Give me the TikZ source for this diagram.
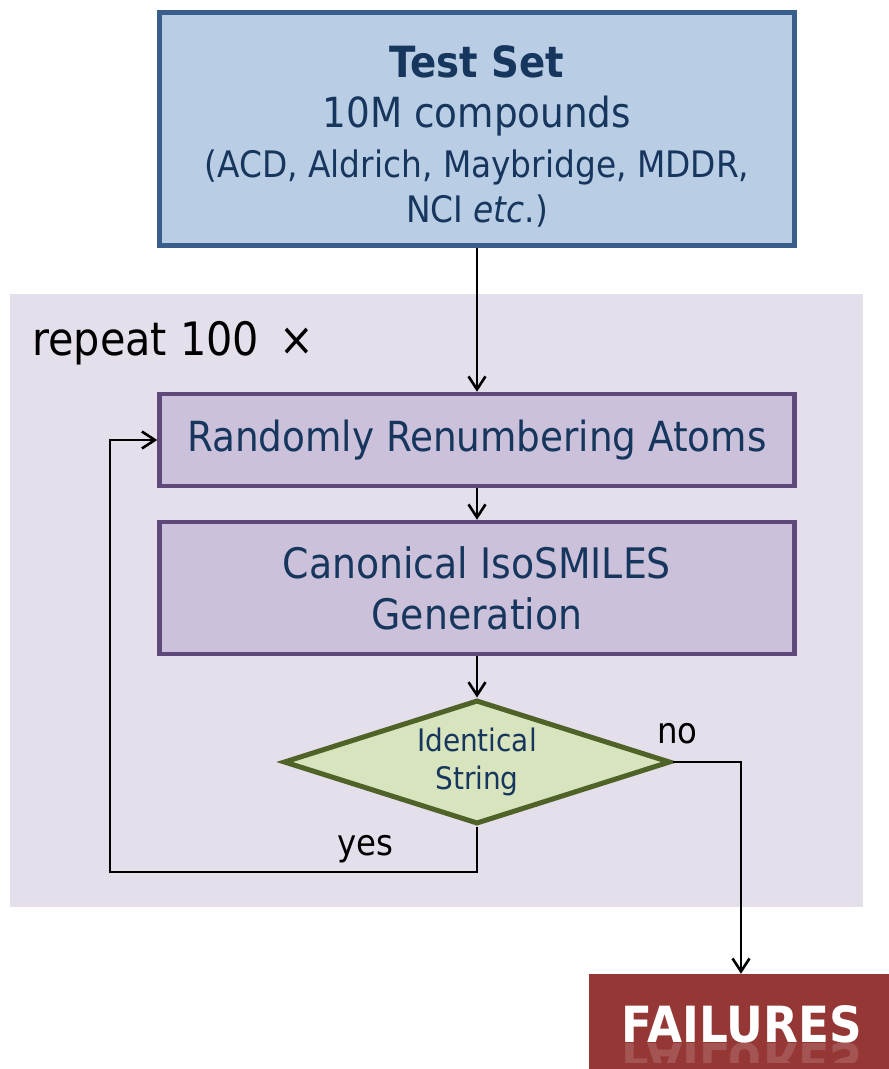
\documentclass[tikz,border=0pt]{standalone}
\usepackage{fontspec}
\usepackage{graphicx}
\setmainfont{DejaVu Sans Condensed}
\newfontfamily\failfont{DejaVu Sans Bold}
\usetikzlibrary{arrows.meta,shapes.geometric}
\definecolor{testfill}{HTML}{B9CDE5}
\definecolor{testdraw}{HTML}{3A5E8C}
\definecolor{bgfill}{HTML}{E5DFEC}
\definecolor{procfill}{HTML}{CCC1DA}
\definecolor{procdraw}{HTML}{5F497A}
\definecolor{decfill}{HTML}{D7E4BD}
\definecolor{decdraw}{HTML}{4F6228}
\definecolor{failfill}{HTML}{953735}
\definecolor{navy}{HTML}{17365D}
\tikzset{
  testbox/.style={draw=testdraw, fill=testfill, line width=5pt, inner sep=0pt,
    minimum width=635pt, minimum height=233pt},
  testtext/.style={inner sep=0pt, text=navy, align=center,
    font=\fontsize{41}{50}\selectfont},
  procbox/.style={draw=procdraw, fill=procfill, line width=4.5pt, inner sep=0pt,
    minimum width=635pt, text=navy, align=center,
    font=\fontsize{42}{51}\selectfont},
  decbox/.style={diamond, draw=decdraw, fill=decfill, line width=5pt, inner sep=0pt,
    aspect=3.06, minimum width=387pt, minimum height=124pt, text=navy, align=center,
    font=\fontsize{31}{38}\selectfont},
  arr/.style={line width=2.6pt, -{Straight Barb[length=13pt,width=17pt]}},
  lbl/.style={inner sep=0pt, anchor=base west, text=black},
}
\begin{document}
\begin{tikzpicture}[x=1pt,y=-1pt]
\useasboundingbox (0,0) rectangle (889,1069);
\fill[white] (0,0) rectangle (889,1069);
% background region
\node[fill=bgfill, inner sep=0pt, minimum width=853pt, minimum height=613pt] (bg) at (436.5,600.5) {};
\node[lbl] (rep) at (32,355) {\fontsize{46}{50}\selectfont repeat 100\hspace{20pt}×};
% test set
\node[testbox] (test) at (477,129) {};
\node[testtext] (testtxt) at (477,136) {%
  {\fontsize{43}{50}\selectfont\bfseries Test Set}\\
  {\fontsize{41.5}{50}\selectfont 10M compounds}\\
  {\fontsize{36.5}{50}\selectfont (ACD, Aldrich, Maybridge, MDDR,}\\[-5pt]
  {\fontsize{36.5}{50}\selectfont NCI \textit{etc}.)}};
% process boxes
\node[procbox, minimum height=92pt] (rand) at (477,440)
  {\fontsize{41.5}{51}\selectfont Randomly Renumbering Atoms};
\node[procbox, minimum height=132pt] (canon) at (477,588)
  {Canonical IsoSMILES\\Generation};
% decision
\node[decbox] (dec) at (477,762) {Identical\\String};
\node[lbl] (no) at (657,743) {\fontsize{36}{40}\selectfont no};
\node[lbl] (yes) at (337,855) {\fontsize{36}{40}\selectfont yes};
% failures
\node[fill=failfill, inner sep=0pt, minimum width=300pt, minimum height=95pt] (fail) at (739,1021.5) {};
\node[inner sep=0pt, anchor=base, text=white] (failtxt) at (742,1042)
  {\resizebox{240pt}{37pt}{\failfont FAILURES}};
\begin{scope}
  \clip (589,1043) rectangle (889,1062);
  \node[inner sep=0pt, anchor=north, text=white, opacity=0.15] (failrefl) at (742,1043)
    {\scalebox{1}[-1]{\resizebox{240pt}{37pt}{\failfont FAILURES}}};
\end{scope}
% connectors
\coordinate (lp) at (110,872);
\draw[arr] (test.south) -- (rand.north);
\draw[arr] (rand.south) -- (canon.north);
\draw[arr] (canon.south) -- (dec.north);
\draw[arr] (dec.east) -| ([xshift=2pt]fail.north);
\draw[arr] (dec.south) |- (lp) |- (rand.west);
\end{tikzpicture}
\end{document}
